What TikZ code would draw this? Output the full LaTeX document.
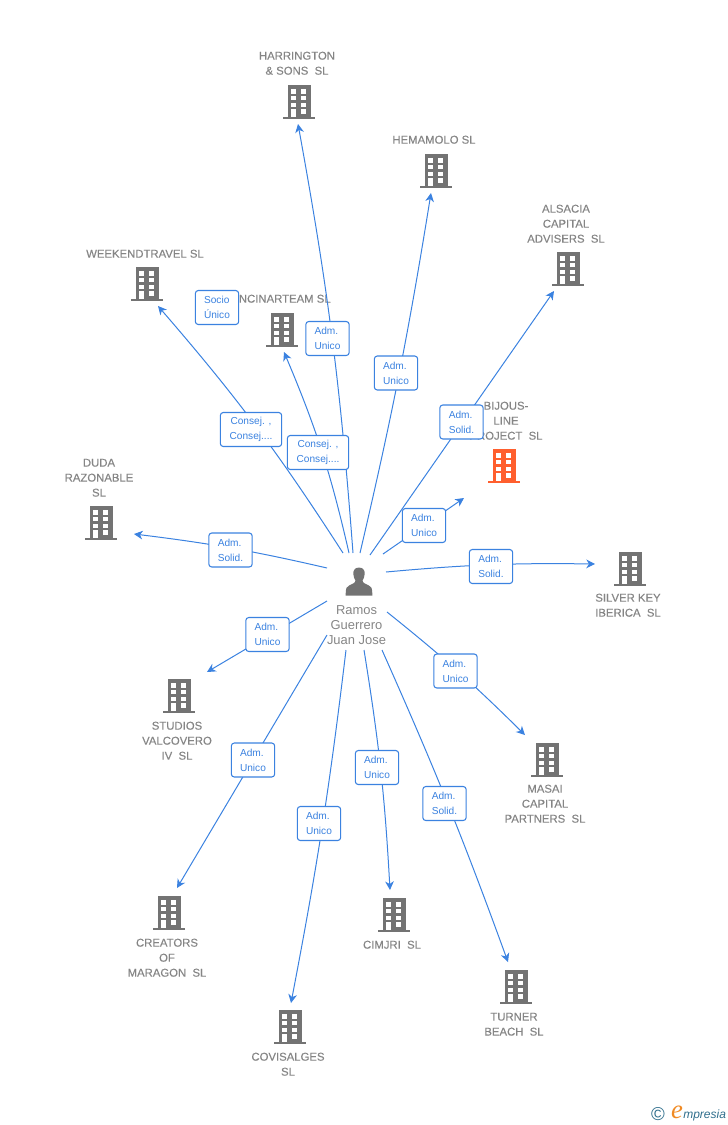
\documentclass[tikz,border=0pt]{standalone}
\usepackage{fontspec}
\setmainfont{Liberation Sans}
\newfontfamily\logoserif{Liberation Serif}
\newfontfamily\namefont[FakeBold=0.25]{Liberation Sans}
\usetikzlibrary{arrows.meta}
\definecolor{linkblue}{HTML}{3B82E0}
\definecolor{namegrey}{HTML}{858585}
\definecolor{iconfill}{HTML}{737373}
\definecolor{iconhot}{HTML}{FF5F2E}
\definecolor{logoteal}{HTML}{2F6E8C}
\definecolor{logoorange}{HTML}{F08A24}
\tikzset{
  link/.style={draw=linkblue,line width=0.75pt,-{Stealth[length=6.5pt,width=6.5pt,inset=2pt]}},
  role/.style={draw=linkblue,line width=0.8pt,rounded corners=2.2pt,fill=white,text=linkblue,
    font=\fontsize{7.6}{11.2}\selectfont,minimum width=32.5pt,minimum height=25.5pt,inner sep=0pt,align=left},
  rolewide/.style={role,minimum width=46pt,align=center},
  company/.style={text=namegrey,font=\fontsize{8.5}{11.25}\selectfont\namefont,align=center,inner sep=0pt,yshift=0.2pt},
  person/.style={text=namegrey,font=\fontsize{9.7}{11.25}\selectfont,align=center,inner sep=0pt},
  pics/building/.style={code={
    \fill[#1] (-11.5,-17) rectangle (11.5,15);
    \fill[#1] (-16,14.5) rectangle (16,17);
    \fill[white] (-8,-12.7) rectangle (-2.7,-8.3);
    \fill[white] (2,-12.7) rectangle (7.3,-8.3);
    \fill[white] (-8,-6) rectangle (-2.7,-1.7);
    \fill[white] (2,-6) rectangle (7.3,-1.7);
    \fill[white] (-8,0.7) rectangle (-2.7,5);
    \fill[white] (2,0.7) rectangle (7.3,5);
    \fill[white] (-8,7.3) rectangle (-2.7,14.5);
    \fill[white] (2,7.3) rectangle (7.3,11.7);
  }}
}
\begin{document}
\begin{tikzpicture}[x=0.75pt,y=-0.75pt]
\useasboundingbox (0,0) rectangle (728,1125);

% Buildings
\pic at (299,102) {building=iconfill};
\pic at (436,171) {building=iconfill};
\pic at (568,269) {building=iconfill};
\pic at (147,284) {building=iconfill};
\pic at (282,330) {building=iconfill};
\pic at (504,466) {building=iconhot};
\pic at (101,523) {building=iconfill};
\pic at (630,569) {building=iconfill};
\pic at (179,696) {building=iconfill};
\pic at (547,760) {building=iconfill};
\pic at (169,913) {building=iconfill};
\pic at (394,915) {building=iconfill};
\pic at (516,987) {building=iconfill};
\pic at (290,1027) {building=iconfill};

% Company names
\node[company] (harrington) at (297,63.5) {HARRINGTON\\\& SONS\ \ SL};
\node[company] (hemamolo) at (434,140) {HEMAMOLO SL};
\node[company] (alsacia) at (566,224) {ALSACIA\\CAPITAL\\ADVISERS\ \ SL};
\node[company] (weekend) at (145,254) {WEEKENDTRAVEL SL};
\node[company] (encinar) at (281,299) {ENCINARTEAM SL};
\node[company] (bijous) at (506,421) {BIJOUS-\\LINE\\PROJECT\ \ SL};
\node[company] (duda) at (99,478) {DUDA\\RAZONABLE\\SL};
\node[company] (silver) at (628,605.5) {SILVER KEY\\IBERICA\ \ SL};
\node[company] (studios) at (177,741) {STUDIOS\\VALCOVERO\\IV\ \ SL};
\node[company] (masai) at (545,804) {MASAI\\CAPITAL\\PARTNERS\ \ SL};
\node[company] (creators) at (167,958) {CREATORS\\OF\\MARAGON\ \ SL};
\node[company] (cimjri) at (392,945) {CIMJRI\ \ SL};
\node[company] (turner) at (514,1024.5) {TURNER\\BEACH\ \ SL};
\node[company] (covisalges) at (288,1064.5) {COVISALGES\\SL};

% Person
\fill[iconfill] (359,567.5) .. controls (354.5,567.5) and (353,571) .. (353.3,574)
  .. controls (353.5,577) and (354.5,579) .. (355.5,580.5)
  .. controls (355.5,583) and (352,584) .. (349,585.5)
  .. controls (346.5,586.5) and (345.7,588) .. (345.7,595.5) -- (372.3,595.5)
  .. controls (372.3,588) and (371.5,586.5) .. (369,585.5)
  .. controls (366,584) and (362.5,583) .. (362.5,580.5)
  .. controls (363.5,579) and (364.5,577) .. (364.7,574)
  .. controls (365,571) and (363.5,567.5) .. (359,567.5) -- cycle;
\node[person] (ramos) at (356.5,625) {Ramos\\Guerrero\\Juan Jose};

% Ends of the links
\coordinate (fromHarrington) at (353,553);
\coordinate (toHarrington) at (298,124);
\coordinate (fromHemamolo) at (360,553);
\coordinate (toHemamolo) at (431,193);
\coordinate (fromAlsacia) at (370,555);
\coordinate (toAlsacia) at (554,291);
\coordinate (fromBijous) at (383,554);
\coordinate (toBijous) at (464,498);
\coordinate (fromSilver) at (386,572);
\coordinate (toSilver) at (595,564);
\coordinate (fromMasai) at (387,612);
\coordinate (toMasai) at (525,735);
\coordinate (fromTurner) at (382,650);
\coordinate (toTurner) at (508,962);
\coordinate (fromCimjri) at (364,650);
\coordinate (toCimjri) at (390,890);
\coordinate (fromCovisalges) at (346,650);
\coordinate (toCovisalges) at (291,1003);
\coordinate (fromCreators) at (327,635);
\coordinate (toCreators) at (177,888);
\coordinate (fromStudios) at (327,601);
\coordinate (toStudios) at (207,672);
\coordinate (fromDuda) at (327,568);
\coordinate (toDuda) at (134,534);
\coordinate (fromWeekend) at (343,553);
\coordinate (toWeekend) at (158,306);
\coordinate (fromEncinar) at (349,553);
\coordinate (toEncinar) at (284,352);

% Links
\draw[link] (fromHarrington) to[bend right=3] (toHarrington);
\draw[link] (fromHemamolo) to[bend right=2] (toHemamolo);
\draw[link] (fromAlsacia) -- (toAlsacia);
\draw[link] (fromBijous) -- (toBijous);
\draw[link] (fromSilver) to[bend left=3] (toSilver);
\draw[link] (fromMasai) to[bend left=3] (toMasai);
\draw[link] (fromTurner) to[bend left=2] (toTurner);
\draw[link] (fromCimjri) to[bend left=3] (toCimjri);
\draw[link] (fromCovisalges) to[bend left=2] (toCovisalges);
\draw[link] (fromCreators) -- (toCreators);
\draw[link] (fromStudios) -- (toStudios);
\draw[link] (fromDuda) to[bend right=3] (toDuda);
\draw[link] (fromWeekend) to[bend right=4] (toWeekend);
\draw[link] (fromEncinar) to[bend right=5] (toEncinar);

% Role boxes
\node[role] (socio) at (217,307.5) {Socio\\Único};
\node[role] (roleHarrington) at (327.5,338.5) {Adm.\\Unico};
\node[role] (roleHemamolo) at (396,373) {Adm.\\Unico};
\node[role] (roleAlsacia) at (461.5,422) {Adm.\\Solid.};
\node[rolewide] (roleWeekend) at (251,429.5) {Consej. ,\\Consej....};
\node[rolewide] (roleEncinar) at (318,452.5) {Consej. ,\\Consej....};
\node[role] (roleBijous) at (424,525.5) {Adm.\\Unico};
\node[role] (roleSilver) at (491,566.5) {Adm.\\Solid.};
\node[role] (roleDuda) at (230.5,550) {Adm.\\Solid.};
\node[role] (roleStudios) at (267.5,634.5) {Adm.\\Unico};
\node[role] (roleMasai) at (455.5,671) {Adm.\\Unico};
\node[role] (roleCreators) at (253,760) {Adm.\\Unico};
\node[role] (roleCimjri) at (377,767.5) {Adm.\\Unico};
\node[role] (roleTurner) at (444.5,803.5) {Adm.\\Solid.};
\node[role] (roleCovisalges) at (319,823.5) {Adm.\\Unico};

% Logo
\node[text=logoteal,font=\fontsize{14}{14}\selectfont,inner sep=0pt] (logoc) at (658,1114) {©};
\node[text=logoorange,font=\fontsize{20}{20}\selectfont\logoserif\itshape,inner sep=0pt] (logoe) at (677,1112) {e};
\node[text=logoteal,font=\fontsize{9}{10}\selectfont\itshape,inner sep=0pt,anchor=west] (logotext) at (683,1115) {mpresia};
\end{tikzpicture}
\end{document}
